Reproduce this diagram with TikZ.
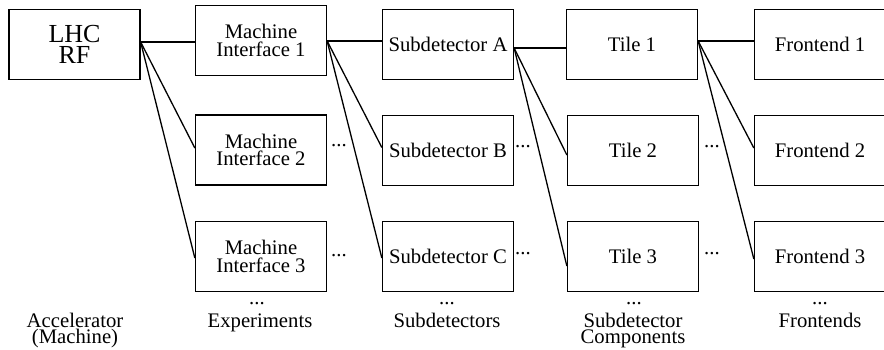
\documentclass[tikz,border=0pt]{standalone}
\usepackage{fontspec}
\setmainfont{Liberation Serif}
\begin{document}
\begin{tikzpicture}[x=1pt, y=-1pt, line width=1.3pt,
  box/.style={draw, rectangle, minimum width=131pt, minimum height=70pt, inner sep=0pt,
    align=center, font=\fontsize{20.7pt}{17.5pt}\selectfont},
  bigbox/.style={box, font=\fontsize{26pt}{20.7pt}\selectfont},
  more/.style={inner sep=0pt, font=\fontsize{20.7pt}{17.5pt}\selectfont},
  caption/.style={inner sep=0pt, anchor=base, align=center, font=\fontsize{20.7pt}{16pt}\selectfont},
  link/.style={line width=1.3pt}]
\useasboundingbox (0,0) rectangle (884,350);
\clip (0,0) rectangle (884,350);

% source
\node[bigbox] (lhc) at (74.5,44.5) {LHC\\RF};

% experiments
\node[box] (mi1) at (261,40.5) {Machine\\Interface 1};
\node[box] (mi2) at (261,150)  {Machine\\Interface 2};
\node[box] (mi3) at (261,256.5) {Machine\\Interface 3};

% subdetectors
\node[box] (sda) at (448,44.5)  {Subdetector A};
\node[box] (sdb) at (448,150.5) {Subdetector B};
\node[box] (sdc) at (448,256.5) {Subdetector C};

% tiles
\node[box] (t1) at (632,44.5)  {Tile 1};
\node[box] (t2) at (633,150.5) {Tile 2};
\node[box] (t3) at (633,256.5) {Tile 3};

% frontends
\node[box] (fe1) at (820,44.5)  {Frontend 1};
\node[box] (fe2) at (820,150.5) {Frontend 2};
\node[box] (fe3) at (820,256.5) {Frontend 3};

% side ellipses
\node[more] (d1) at (339,146) {...};
\node[more] (d2) at (339,256) {...};
\node[more] (d3) at (523,147) {...};
\node[more] (d4) at (523,254) {...};
\node[more] (d5) at (712,147) {...};
\node[more] (d6) at (712,254) {...};

% column ellipses
\node[caption] (e1) at (257,304.5) {...};
\node[caption] (e2) at (447,304.5) {...};
\node[caption] (e3) at (634,304.5) {...};
\node[caption] (e4) at (820,304.5) {...};

% column captions (base anchor sits on the last line)
\node[caption] (c0) at (75,343)  {Accelerator\\(Machine)};
\node[caption] (c1) at (260,327) {Experiments};
\node[caption] (c2) at (447,327) {Subdetectors};
\node[caption] (c3) at (633,343) {Subdetector\\Components};
\node[caption] (c4) at (820,327) {Frontends};

% output points of the fan-outs
\coordinate (o0) at ([yshift=2.5pt]lhc.east);
\coordinate (o1) at ([yshift=-0.5pt]mi1.east);
\coordinate (o2) at ([yshift=-3.5pt]sda.east);
\coordinate (o3) at ([yshift=3.5pt]t1.east);

% fan-out connectors
\draw[link] (o0) -- (o0 -| mi1.west);
\draw[link] (o0) -- ([yshift=2pt]mi2.west);
\draw[link] (o0) -- ([yshift=-1.5pt]mi3.west);

\draw[link] (o1) -- (o1 -| sda.west);
\draw[link] (o1) -- ([yshift=3pt]sdb.west);
\draw[link] (o1) -- ([yshift=-1.5pt]sdc.west);

\draw[link] (o2) -- (o2 -| t1.west);
\draw[link] (o2) -- ([yshift=-4.5pt]t2.west);
\draw[link] (o2) -- ([yshift=-9.5pt]t3.west);

\draw[link] (o3) -- (o3 -| fe1.west);
\draw[link] (o3) -- ([yshift=2.5pt]fe2.west);
\draw[link] (o3) -- ([yshift=-2.5pt]fe3.west);
\end{tikzpicture}
\end{document}
